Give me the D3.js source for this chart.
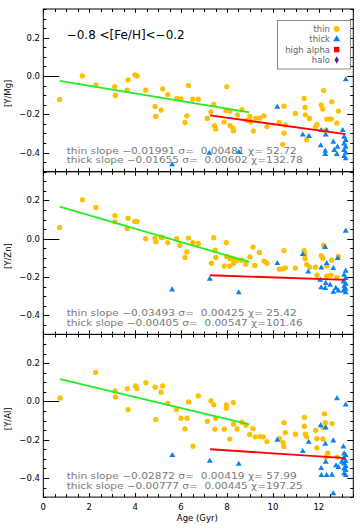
<!DOCTYPE html>
<html><head><meta charset="utf-8">
<script src="https://cdn.jsdelivr.net/npm/d3@7"></script>
<style>
html,body{margin:0;padding:0;background:#fff;}
svg{display:block;}
text{font-family:"DejaVu Sans","Liberation Sans",sans-serif;}
</style></head>
<body>
<svg id="chart" width="360" height="529"></svg>
<script>
// ---------- data ----------
const panelLabels = ["[Y/Mg]", "[Y/Zn]", "[Y/Al]"];
const xTickValues = [0, 2, 4, 6, 8, 10, 12];
const yTickValues = [-0.4, -0.2, 0.0, 0.2];
const titleText = "\u22120.8 <[Fe/H]<\u22120.2";
const legendLabels = ["thin", "thick", "high alpha", "halo"];

// [Y/Mg]
const mgThinAge = [0.71,1.70,2.29,3.11,3.14,3.65,3.69,3.99,4.08,4.46,4.87,4.90,5.20,5.13,5.42,5.81,6.00,6.17,6.25,6.32,6.51,6.75,7.42,7.30,7.14,7.45,7.51,7.96,7.99,7.87,8.13,8.13,8.26,8.28,8.45,8.65,8.86,9.00,9.03,9.15,9.26,9.44,9.61,9.74,10.28,10.48,10.48,10.54,10.43,10.98,11.36,11.40,11.41,11.59,11.47,11.85,11.92,12.10,12.17,12.21,12.56,12.34,12.46,12.54,12.85,12.78,12.24];
const mgThinVal = [-0.123,0.001,-0.046,-0.055,-0.102,-0.074,-0.021,0.006,0.000,-0.074,-0.159,-0.211,-0.068,-0.178,-0.097,-0.117,-0.119,-0.243,-0.208,-0.050,-0.121,-0.121,-0.149,-0.187,-0.222,-0.260,-0.277,-0.180,-0.055,-0.241,-0.183,-0.260,-0.272,-0.286,-0.203,-0.176,-0.232,-0.211,-0.239,-0.288,-0.220,-0.220,-0.208,-0.264,-0.243,-0.157,-0.298,-0.256,-0.357,-0.196,-0.117,-0.164,-0.203,-0.222,-0.333,-0.264,-0.253,-0.152,-0.173,-0.076,-0.135,-0.225,-0.225,-0.225,-0.183,-0.246,-0.285];
const mgThickAge = [5.61,7.23,8.51,10.19,11.30,11.57,12.10,12.30,12.34,12.08,12.28,12.28,12.63,12.67,12.81,12.78,13.04,13.17,13.10,13.17,13.10,13.17,13.10,13.17,13.10,13.17];
const mgThickVal = [-0.460,-0.400,-0.395,-0.159,-0.305,-0.312,-0.281,-0.305,-0.281,-0.361,-0.389,-0.406,-0.342,-0.385,-0.368,-0.406,-0.281,-0.016,-0.316,-0.333,-0.351,-0.368,-0.385,-0.400,-0.417,-0.429];

// [Y/Zn]
const znThinAge = [0.71,1.70,2.29,3.12,3.12,3.69,3.66,3.99,4.08,4.46,4.86,4.90,5.13,5.20,5.42,5.81,5.95,6.25,6.17,6.32,6.51,6.75,7.42,7.48,7.51,7.32,7.97,7.99,8.13,7.88,8.12,8.29,8.31,8.44,8.65,8.82,9.00,9.13,9.21,9.41,9.61,9.74,10.28,10.48,10.45,10.54,10.98,11.36,11.39,11.40,11.47,11.60,11.86,11.92,12.10,12.17,12.21,12.56,12.34,12.34,12.52,12.78,12.85];
const znThinVal = [0.058,0.203,0.163,0.120,0.088,0.107,0.053,0.090,0.090,0.000,0.003,-0.016,0.008,0.006,-0.020,0.000,-0.035,-0.069,-0.098,0.003,-0.020,-0.025,0.005,-0.060,-0.098,-0.128,-0.020,-0.093,-0.105,-0.143,-0.143,-0.128,-0.105,-0.112,-0.112,-0.133,-0.095,-0.044,-0.140,-0.072,-0.117,-0.128,-0.159,-0.062,-0.157,-0.152,-0.154,-0.062,-0.083,-0.105,-0.136,-0.149,-0.149,-0.191,-0.089,-0.102,-0.035,-0.112,-0.143,-0.196,-0.191,-0.203,-0.093];
const znThickAge = [5.61,7.25,8.51,10.19,11.30,11.54,12.27,12.11,12.34,12.63,12.82,12.06,12.10,12.30,12.28,12.49,12.74,12.63,12.85,13.17,13.17,13.10,13.17,13.07,13.17,13.10,13.17,13.07,13.17];
const znThickVal = [-0.264,-0.208,-0.279,-0.126,-0.079,-0.171,-0.042,-0.149,-0.126,-0.152,-0.100,-0.213,-0.253,-0.230,-0.256,-0.239,-0.256,-0.276,-0.269,0.043,-0.166,-0.187,-0.204,-0.222,-0.234,-0.248,-0.260,-0.270,-0.279];

// [Y/Al]
const alThinAge = [0.73,2.28,3.13,3.14,3.66,3.69,4.02,4.08,4.47,4.87,4.90,5.13,5.20,5.42,5.79,6.00,6.26,6.33,6.17,6.52,6.75,7.30,7.42,7.97,7.97,8.28,7.14,7.51,7.47,7.88,8.28,8.44,8.65,8.82,8.12,9.13,8.99,9.23,9.44,9.58,9.74,10.28,10.44,10.47,10.54,10.48,10.98,11.37,11.37,11.41,11.47,11.91,11.86,11.91,12.24,12.28,12.18,12.18,12.57,12.39,12.31,12.79];
const alThinVal = [0.018,0.152,0.055,0.023,0.067,-0.043,0.081,0.067,0.098,0.074,-0.095,0.048,0.081,-0.010,-0.043,-0.088,-0.088,-0.003,-0.144,-0.234,0.029,0.003,-0.018,-0.018,-0.036,-0.006,-0.104,-0.088,-0.145,-0.145,-0.119,-0.144,-0.109,-0.124,-0.197,-0.142,-0.173,-0.185,-0.184,-0.185,-0.210,-0.194,-0.215,-0.236,-0.163,-0.111,-0.171,-0.083,-0.131,-0.171,-0.185,-0.194,-0.151,-0.243,-0.065,-0.111,-0.137,-0.196,-0.116,-0.271,-0.290,-0.291];
const alThickAge = [5.62,7.25,8.51,10.19,11.30,11.56,12.08,12.30,12.28,12.63,13.07,12.79,13.17,12.10,12.30,12.34,12.11,12.57,12.75,12.85,12.63,13.10,13.17,13.10,13.17,13.10,13.17,13.10,13.17,13.10,13.17,13.00];
const alThickVal = [-0.279,-0.309,-0.325,-0.199,-0.258,-0.210,-0.123,-0.135,-0.220,-0.203,-0.234,0.018,-0.015,-0.347,-0.314,-0.384,-0.384,-0.382,-0.333,-0.342,-0.479,-0.271,-0.279,-0.297,-0.311,-0.323,-0.337,-0.349,-0.358,-0.375,-0.384,-0.314];

// fits: thin / thick slope, sigma, chi, intercept and fitted age range
const thinSlope = [-0.01991, -0.03493, -0.02872];
const thinSigma = [0.00481, 0.00425, 0.00419];
const thinChi = [52.72, 25.42, 57.99];
const thinIntercept = [-0.0109, 0.1918, 0.137];
const thinRange = [[0.71, 8.97], [0.71, 8.97], [0.73, 8.97]];
const thickSlope = [-0.01655, -0.00405, -0.00777];
const thickSigma = [0.00602, 0.00547, 0.00445];
const thickChi = [132.78, 101.46, 197.25];
const thickIntercept = [-0.0858, -0.1616, -0.1936];
const thickRange = [[7.26, 13.17], [7.26, 13.17], [7.26, 13.17]];
const zeroLineEnd = 0.7;

// ---------- layout ----------
const svg = d3.select("#chart");
const L = 43.3, R = 353.3;
const panelTops = [9, 171.7, 334.4];
const panelH = 162.7;
const x = d3.scaleLinear().domain([0, 13.5]).range([L, R]);

const COL_THIN = "#ffbf00", COL_THICK = "#0a80f5", COL_GREEN = "#22ee22", COL_RED = "#ff0000";
const COL_TXT = "#7a7a7a";

const panels = [
  {thinA: mgThinAge, thinV: mgThinVal, thickA: mgThickAge, thickV: mgThickVal},
  {thinA: znThinAge, thinV: znThinVal, thickA: znThickAge, thickV: znThickVal},
  {thinA: alThinAge, thinV: alThinVal, thickA: alThickAge, thickV: alThickVal}
];

const circ = d3.symbol().type(d3.symbolCircle).size(22);
const tri = d3.symbol().type(d3.symbolTriangle).size(15);
const fmtY = d3.format(".1f");
const f5 = d3.format(".5f");

const minorX = d3.range(0, 13.5001, 0.5);
const minorY = d3.range(-0.5, 0.3501, 0.05).map(v => Math.round(v * 100) / 100);

panels.forEach((p, i) => {
  const top = panelTops[i], bot = top + panelH;
  const y = d3.scaleLinear().domain([-0.5, 0.35]).range([bot, top]);
  const g = svg.append("g");

  // frame
  g.append("rect").attr("x", L).attr("y", top).attr("width", R - L).attr("height", panelH)
    .attr("fill", "none").attr("stroke", "#000").attr("stroke-width", 1);

  // y ticks (left & right, inward)
  minorY.forEach(v => {
    const isMajor = yTickValues.some(t => Math.abs(t - v) < 1e-6);
    const len = isMajor ? 6 : 3;
    const yy = Math.round(y(v)) + 0.5;
    g.append("line").attr("x1", L).attr("x2", L + len).attr("y1", yy).attr("y2", yy).attr("stroke", "#000");
    g.append("line").attr("x1", R).attr("x2", R - len).attr("y1", yy).attr("y2", yy).attr("stroke", "#000");
  });
  // x ticks (top & bottom, inward)
  minorX.forEach(v => {
    const isMajor = xTickValues.includes(v);
    const len = isMajor ? 4 : 3;
    const xx = Math.round(x(v)) + 0.5;
    g.append("line").attr("x1", xx).attr("x2", xx).attr("y1", bot).attr("y2", bot - len).attr("stroke", "#000");
    g.append("line").attr("x1", xx).attr("x2", xx).attr("y1", top).attr("y2", top + len).attr("stroke", "#000");
  });

  // y tick labels
  g.selectAll("text.yt").data(yTickValues).enter().append("text")
    .attr("x", 40).attr("y", d => y(d)).attr("dy", "0.35em")
    .attr("text-anchor", "end").attr("font-size", 8.5).attr("fill", "#000")
    .text(d => fmtY(d));

  // y label
  g.append("text")
    .attr("transform", `translate(11,${top + panelH / 2 + 3}) rotate(-90)`)
    .attr("text-anchor", "middle").attr("font-size", 8.5).attr("fill", "#000")
    .text(panelLabels[i]);

  // zero segment
  g.append("line").attr("x1", x(0)).attr("x2", x(zeroLineEnd))
    .attr("y1", Math.round(y(0)) + 0.5).attr("y2", Math.round(y(0)) + 0.5)
    .attr("stroke", "#000").attr("stroke-width", 1);

  // stats text
  const s1 = `thin slope ${d3.format(".5f")(thinSlope[i])} \u03c3=  ${f5(thinSigma[i])} \u03c7=${d3.format("6.2f")(thinChi[i])}`;
  const s2 = `thick slope ${d3.format(".5f")(thickSlope[i])} \u03c3=  ${f5(thickSigma[i])} \u03c7=${d3.format("6.2f")(thickChi[i])}`;
  g.append("text").attr("x", 66.7).attr("y", top + 144.5)
    .attr("font-size", 9).attr("fill", COL_TXT).style("white-space", "pre")
    .attr("textLength", 230).attr("lengthAdjust", "spacingAndGlyphs").text(s1);
  g.append("text").attr("x", 66.7).attr("y", top + 154.2)
    .attr("font-size", 9).attr("fill", COL_TXT).style("white-space", "pre")
    .attr("textLength", 236).attr("lengthAdjust", "spacingAndGlyphs").text(s2);

  // thin points
  g.selectAll("path.thin").data(d3.range(p.thinA.length)).enter().append("path")
    .attr("d", circ).attr("fill", COL_THIN)
    .attr("transform", k => `translate(${x(p.thinA[k])},${y(p.thinV[k])})`);
  // thick points
  g.selectAll("path.thick").data(d3.range(p.thickA.length)).enter().append("path")
    .attr("d", tri).attr("fill", COL_THICK)
    .attr("transform", k => `translate(${x(p.thickA[k])},${y(p.thickV[k]) + 0.5})`);

  // fit lines
  const thinLine = thinRange[i].map(a => [x(a), y(thinIntercept[i] + thinSlope[i] * a)]);
  const thickLine = thickRange[i].map(a => [x(a), y(thickIntercept[i] + thickSlope[i] * a)]);
  g.append("path").attr("d", d3.line()(thinLine)).attr("stroke", COL_GREEN).attr("stroke-width", 1.8).attr("fill", "none");
  g.append("path").attr("d", d3.line()(thickLine)).attr("stroke", COL_RED).attr("stroke-width", 1.8).attr("fill", "none");
});

// x tick labels (bottom panel only)
const bottomY = panelTops[2] + panelH;
svg.selectAll("text.xt").data(xTickValues).enter().append("text")
  .attr("x", d => x(d)).attr("y", bottomY + 12.5)
  .attr("text-anchor", "middle").attr("font-size", 8.5).attr("fill", "#000")
  .text(d => d);
svg.append("text").attr("x", (L + R) / 2 - 1).attr("y", bottomY + 24)
  .attr("text-anchor", "middle").attr("font-size", 8.5).attr("fill", "#000").text("Age (Gyr)");

// title
svg.append("text").attr("x", 66.7).attr("y", 39.3).attr("font-size", 11.5).attr("fill", "#000")
  .attr("textLength", 118).attr("lengthAdjust", "spacingAndGlyphs").text(titleText);

// legend
const lg = svg.append("g");
lg.append("rect").attr("x", 277.5).attr("y", 20.5).attr("width", 73).attr("height", 48.5)
  .attr("fill", "#fff").attr("stroke", "#888").attr("stroke-width", 1);
const legRowY = [29, 39.3, 49.6, 60];
const legCol = [COL_THIN, COL_THICK, "#ff0000", "#6a1b9a"];
const legSym = [d3.symbolCircle, d3.symbolTriangle, d3.symbolSquare, d3.symbolDiamond];
const legSize = [26, 22, 30, 16];
legendLabels.forEach((lab, k) => {
  lg.append("text").attr("x", 330).attr("y", legRowY[k]).attr("dy", "0.35em")
    .attr("text-anchor", "end").attr("font-size", 8.5).attr("fill", "#666").text(lab);
  lg.append("path").attr("d", d3.symbol().type(legSym[k]).size(legSize[k])())
    .attr("fill", legCol[k]).attr("transform", `translate(336.7,${legRowY[k]})`);
});
</script>
</body></html>
